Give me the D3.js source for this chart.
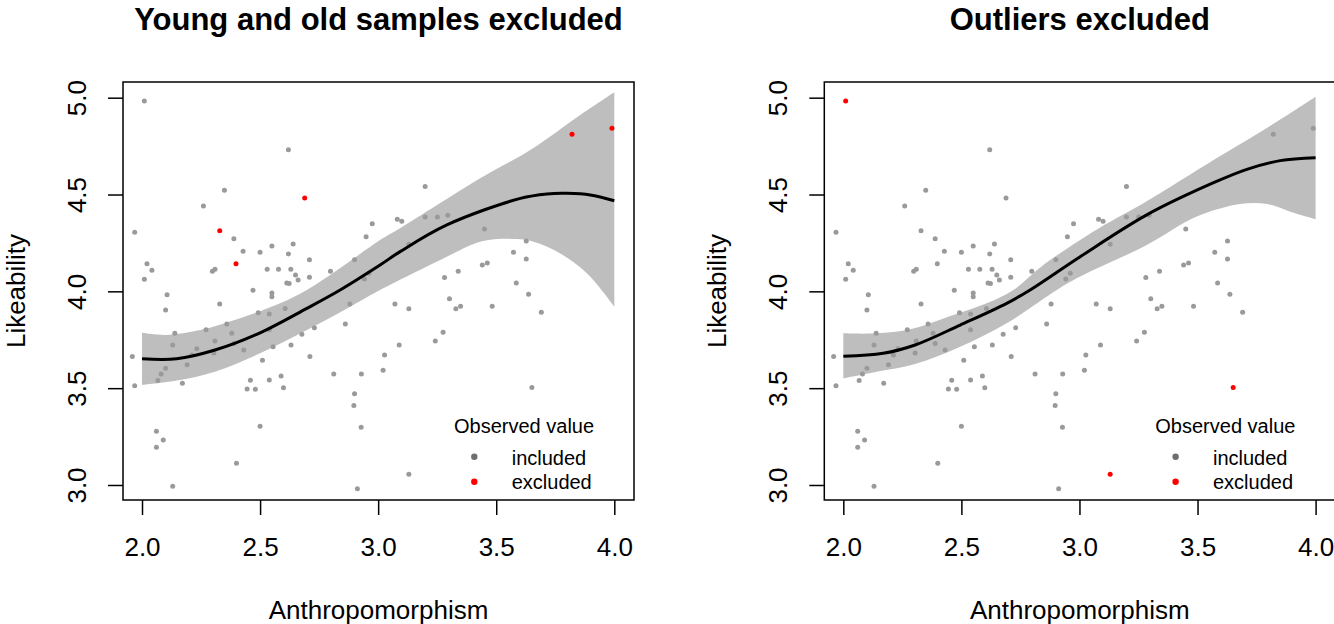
<!DOCTYPE html>
<html>
<head>
<meta charset="utf-8">
<script src="https://cdn.jsdelivr.net/npm/d3@7"></script>
<style>
body {margin:0; background:#fff;}
svg {display:block; font-family:'Liberation Sans', Arial, sans-serif;}
</style>
</head>
<body>
<svg class="chart" width="1334" height="624"></svg>
<script>
// observed values (same sample in both panels)
var anthro = [
	2.01,2.62,2.349,2.689,2.26,1.969,2.329,2.389,2.428,2.50,
	2.55,2.64,2.62,2.398,2.021,2.042,2.01,2.298,2.309,2.53,
	2.578,2.63,2.709,2.65,2.661,2.613,2.623,2.709,2.798,2.90,
	2.949,2.975,3.081,2.942,2.961,2.47,2.55,2.55,2.106,2.329,
	2.10,2.606,2.88,3.071,2.492,2.539,2.139,2.271,2.359,2.38,
	2.13,2.309,2.232,2.304,2.431,1.959,2.191,2.10,2.081,2.067,
	1.969,2.171,2.51,2.555,2.631,2.677,2.73,2.711,2.459,2.445,
	2.48,2.539,2.589,2.599,2.812,2.861,2.90,2.897,2.929,2.928,
	3.027,3.021,3.089,2.50,2.061,2.09,2.061,2.40,2.13,2.912,
	3.199,3.821,3.99,3.10,3.199,3.251,3.295,3.45,3.13,3.627,
	3.573,3.627,3.441,3.462,3.339,3.281,3.585,3.637,3.302,3.13,
	3.349,3.329,3.483,3.691,3.242,3.275,3.651,3.13,2.539,2.389,2.212
];
var likeab = [
	4.983,4.731,4.522,4.482,4.441,4.305,4.313,4.272,4.207,4.202,
	4.234,4.245,4.193,4.143,4.143,4.109,4.062,4.104,4.114,4.114,
	4.114,4.114,4.163,4.084,4.059,4.043,4.04,4.073,4.104,4.163,
	4.282,4.349,4.372,4.064,4.093,4.005,3.991,3.972,3.983,3.935,
	3.904,3.911,3.935,3.935,3.89,3.883,3.783,3.802,3.831,3.783,
	3.723,3.744,3.704,3.682,3.697,3.663,3.621,3.603,3.573,3.539,
	3.513,3.525,3.644,3.714,3.723,3.778,3.812,3.663,3.541,3.496,
	3.494,3.542,3.563,3.502,3.573,3.831,3.471,3.41,3.573,3.298,
	3.671,3.592,3.723,3.303,3.277,3.232,3.195,3.112,2.993,2.981,
	4.542,4.811,4.842,4.362,4.384,4.384,4.393,4.322,4.243,4.26,
	4.202,4.167,4.136,4.146,4.104,4.071,4.043,3.985,3.962,3.91,
	3.923,3.91,3.923,3.892,3.744,3.789,3.503,3.055,3.802,3.731,3.671
];

// which observations are excluded in each panel (index into arrays above)
var excludedYoungOld = [3,6,13,91,92];
var excludedOutliers = [0,116,117];

// smooth fits
var fit1X = [2.000,2.147,2.309,2.500,2.698,2.839,3.008,3.093,3.291,3.602,3.715,3.800,3.898,4.000];
var fit1Y = [3.652,3.652,3.697,3.786,3.912,4.007,4.136,4.205,4.343,4.480,4.503,4.506,4.498,4.468];
var upper1X = [2.000,2.105,2.246,2.415,2.585,2.698,2.847,3.008,3.093,3.432,3.644,3.856,4.000];
var upper1Y = [3.786,3.775,3.800,3.861,3.938,4.007,4.127,4.265,4.326,4.584,4.730,4.911,5.028];
var lower1X = [2.000,2.147,2.309,2.500,2.698,2.895,2.994,3.291,3.418,3.503,3.588,3.658,3.771,3.884,4.000];
var lower1Y = [3.516,3.539,3.585,3.680,3.800,3.930,3.998,4.179,4.251,4.270,4.270,4.256,4.196,4.093,3.921];

var fit2X = [2.000,2.169,2.304,2.495,2.692,2.791,3.003,3.285,3.568,3.709,3.850,4.000];
var fit2Y = [3.665,3.680,3.723,3.826,3.938,4.007,4.179,4.395,4.561,4.630,4.675,4.690];
var upper2X = [2.000,2.141,2.283,2.466,2.607,2.720,2.847,3.003,3.088,3.285,3.568,3.780,4.000];
var upper2Y = [3.783,3.783,3.804,3.878,3.938,4.007,4.136,4.265,4.330,4.465,4.678,4.833,5.005];
var lower2X = [2.000,2.141,2.304,2.495,2.692,2.904,3.003,3.285,3.497,3.681,3.794,3.893,4.000];
var lower2Y = [3.551,3.585,3.625,3.714,3.835,4.007,4.076,4.239,4.386,4.451,4.451,4.411,4.372];

var xTicks = [2.0,2.5,3.0,3.5,4.0];
var yTicks = [3.0,3.5,4.0,4.5,5.0];
var legendLabels = ['included','excluded'];

var width = 511,
	height = 418,
	marginTop = 82;

var ptCol = '#9a9a9a',
	exCol = '#ff0000',
	bandCol = '#bebebe';

var xScale = d3.scaleLinear().domain([1.9195,4.0834]).range([0,width]);
var yScale = d3.scaleLinear().domain([2.9225,5.081]).range([height,0]);

var zip = (xs,ys) => xs.map((v,i)=>[v,ys[i]]);

var lineGen = d3.line()
			.x(d=>xScale(d[0]))
			.y(d=>yScale(d[1]))
			.curve(d3.curveCatmullRom);

var panels = [
	{title:'Young and old samples excluded', left:123, excluded:excludedYoungOld,
	 fit:zip(fit1X,fit1Y), upper:zip(upper1X,upper1Y), lower:zip(lower1X,lower1Y)},
	{title:'Outliers excluded', left:824.3, excluded:excludedOutliers,
	 fit:zip(fit2X,fit2Y), upper:zip(upper2X,upper2Y), lower:zip(lower2X,lower2Y)}
];

var svg = d3.select('.chart');

panels.forEach(function(p){
	var chart = svg.append('g')
				.attr('transform','translate('+p.left+','+marginTop+')');

	//Band
	var bandPath = lineGen(p.upper) + 'L' + lineGen(p.lower.slice().reverse()).slice(1) + 'Z';
	chart.append('path')
		.attr('d',bandPath)
		.attr('fill',bandCol)
		.attr('stroke','none');

	//Points
	var pts = anthro.map((v,i)=>({x:v, y:likeab[i], ex:p.excluded.indexOf(i)>=0}));
	chart.append('g')
		.selectAll('circle')
		.data(pts)
		.enter()
		.append('circle')
		.attr('cx',d=>xScale(d.x))
		.attr('cy',d=>yScale(d.y))
		.attr('r',2.5)
		.attr('fill',d=>d.ex ? exCol : ptCol);

	//Fit line
	chart.append('path')
		.attr('d',lineGen(p.fit))
		.attr('fill','none')
		.attr('stroke','#000')
		.attr('stroke-width',3);

	//Box
	chart.append('rect')
		.attr('width',width)
		.attr('height',height)
		.attr('fill','none')
		.attr('stroke','#000')
		.attr('stroke-width',1.5);

	//Axes
	var xAxis = chart.append('g')
		.attr('transform','translate(0,'+height+')')
		.call(d3.axisBottom(xScale).tickValues(xTicks).tickSize(15).tickPadding(23).tickFormat(d3.format('.1f')));
	var yAxis = chart.append('g')
		.call(d3.axisLeft(yScale).tickValues(yTicks).tickSize(15).tickFormat(d3.format('.1f')));

	[xAxis,yAxis].forEach(function(a){
		a.select('.domain').remove();
		a.selectAll('line').attr('stroke','#000').attr('stroke-width',1.5);
		a.selectAll('text')
			.attr('fill','#000')
			.attr('font-size',26)
			.attr('font-family',"'Liberation Sans', Arial, sans-serif");
	});

	yAxis.selectAll('text')
		.attr('transform','rotate(-90)')
		.attr('text-anchor','middle')
		.attr('x',0)
		.attr('y',-37)
		.attr('dy',0);

	//Title
	chart.append('text')
		.text(p.title)
		.attr('x',width/2)
		.attr('y',30-marginTop)
		.attr('text-anchor','middle')
		.attr('font-size',31)
		.attr('font-weight','bold');

	//Axis labels
	chart.append('text')
		.text('Anthropomorphism')
		.attr('x',width/2)
		.attr('y',619-marginTop)
		.attr('text-anchor','middle')
		.attr('font-size',26);

	chart.append('text')
		.text('Likeability')
		.attr('transform','translate(-98,'+height/2+') rotate(-90)')
		.attr('text-anchor','middle')
		.attr('font-size',26);

	//Legend
	var legend = chart.append('g')
				.attr('transform','translate(331,0)');

	legend.append('text')
		.text('Observed value')
		.attr('x',0)
		.attr('y',432.7-marginTop)
		.attr('font-size',20);

	legendLabels.forEach(function(lab,i){
		legend.append('circle')
			.attr('cx',20.3)
			.attr('cy',456.7-marginTop+i*25)
			.attr('r',3.2)
			.attr('fill',i==0 ? '#6e6e6e' : exCol);
		legend.append('text')
			.text(lab)
			.attr('x',57.7)
			.attr('y',465-marginTop+i*24)
			.attr('font-size',20);
	});
});
</script>
</body>
</html>
